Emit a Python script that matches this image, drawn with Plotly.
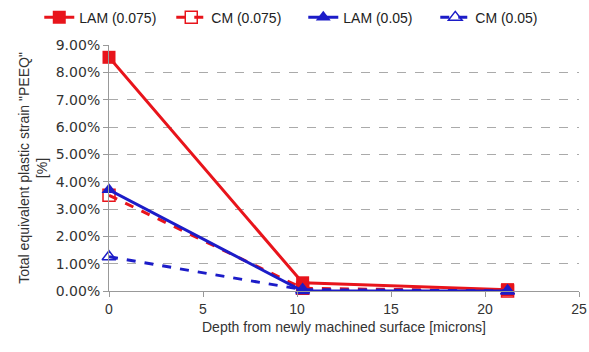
import plotly.graph_objects as go

depth = [0, 10.3, 21.2]
lam_075 = [0.0855, 0.0030, 0.0005]
cm_075 = [0.0350, 0.0010, 0.0000]
lam_005 = [0.0370, 0.0000, 0.0000]
cm_005 = [0.0125, 0.0005, 0.0000]

red = "#e8141b"
blue = "#1c1cc8"

fig = go.Figure()
fig.add_trace(go.Scatter(x=depth, y=lam_075, name="LAM (0.075)", mode="lines+markers",
                         line=dict(color=red, width=3), cliponaxis=False,
                         marker=dict(symbol="square", size=13, color=red)))
fig.add_trace(go.Scatter(x=depth, y=cm_075, name="CM (0.075)", mode="lines+markers",
                         line=dict(color=red, width=3, dash="dash"), cliponaxis=False,
                         marker=dict(symbol="square-open", size=12, color=red, line=dict(width=1.5))))
fig.add_trace(go.Scatter(x=depth, y=lam_005, name="LAM (0.05)", mode="lines+markers",
                         line=dict(color=blue, width=3), cliponaxis=False,
                         marker=dict(symbol="triangle-up", size=13, color=blue)))
fig.add_trace(go.Scatter(x=depth, y=cm_005, name="CM (0.05)", mode="lines+markers",
                         line=dict(color=blue, width=3, dash="dash"), cliponaxis=False,
                         marker=dict(symbol="triangle-up-open", size=12, color=blue, line=dict(width=1.5))))

W = 589
ml, mr = 2, 2
pw = W - ml - mr
fig.update_layout(
    width=W, height=352,
    margin=dict(l=ml, r=mr, t=45, b=61, autoexpand=False),
    paper_bgcolor="white", plot_bgcolor="white",
    font=dict(family="Liberation Sans, Arial", size=14, color="#333"),
    legend=dict(orientation="h", x=0.515, xanchor="center", y=0.995, yanchor="top",
                yref="container", font=dict(size=14, family="Liberation Sans", color="#222"),
                itemwidth=30, tracegroupgap=0, entrywidth=87, entrywidthmode="pixels"),
    xaxis=dict(domain=[(109 - ml) / pw, (579 - ml) / pw], automargin=False,
               range=[0, 25], tickvals=[0, 5, 10, 15, 20, 25], showgrid=False,
               showline=True, linecolor="#999", ticks="outside", tickcolor="#999", ticklen=5,
               zeroline=False, tickfont=dict(size=14),
               title=dict(text="Depth from newly machined surface [microns]", font=dict(size=14), standoff=6)),
    yaxis=dict(automargin=False, range=[0, 0.09], dtick=0.01, tickformat=".2%", showgrid=True,
               gridcolor="#aaa", griddash="dash", gridwidth=1,
               showline=True, linecolor="#999", ticks="outside", tickcolor="#999", ticklen=5,
               zeroline=False, tickfont=dict(size=14, family="DejaVu Sans"),
               title=dict(text='Total equivalent plastic strain "PEEQ"<br>[%]', font=dict(size=14), standoff=4)),
)
fig.write_html("out.html")
